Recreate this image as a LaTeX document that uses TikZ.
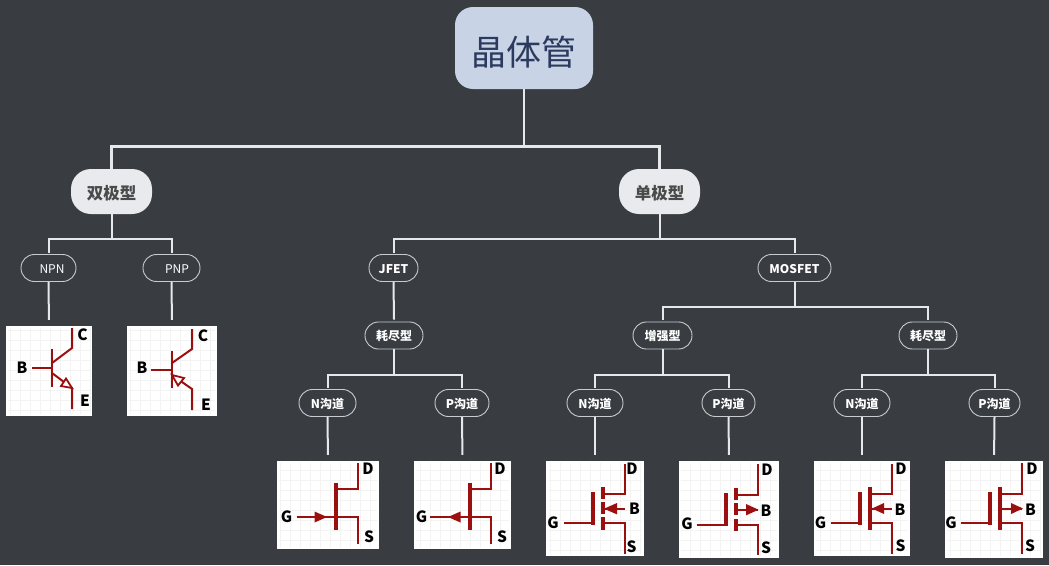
\documentclass[tikz,border=0pt]{standalone}
\usepackage{fontspec}
\setmainfont{Noto Sans CJK SC}
\definecolor{bgc}{HTML}{393C41}
\definecolor{rootc}{HTML}{C8D3E6}
\definecolor{roott}{HTML}{2B3A5E}
\definecolor{subc}{HTML}{E8EAED}
\definecolor{subt}{HTML}{4A4A4A}
\definecolor{linec}{HTML}{E6E8EA}
\definecolor{thinc}{HTML}{C9CBCD}
\definecolor{symc}{HTML}{9C0F0F}
\definecolor{gridc}{HTML}{F3F3F3}
\tikzset{
  rootbox/.style={fill=rootc,rounded corners=18pt,minimum width=138pt,minimum height=82pt,inner sep=0pt,text=roott,text height=36pt,text depth=1.4pt,font=\fontsize{35}{40}\selectfont},
  subbox/.style={fill=subc,rounded corners=20pt,minimum width=81pt,minimum height=45pt,inner sep=0pt,text=subt,text height=17pt,text depth=0.8pt,font=\fontsize{16.5}{20}\selectfont\bfseries},
  pill/.style={draw=thinc,line width=0.9pt,rounded corners=13.4pt,minimum height=27pt,inner sep=0pt,text=white,text height=11.6pt,text depth=0.8pt,font=\fontsize{12}{14}\selectfont\bfseries},
  pillreg/.style={pill,font=\fontsize{12}{14}\selectfont},
  panel/.style={fill=white,inner sep=0pt},
  gridln/.style={draw=gridc,line width=0.7pt},
  mainln/.style={draw=linec,line width=2.6pt},
  subln/.style={draw=linec,line width=2pt},
  toimg/.style={subln,shorten >=6pt},
  sym/.style={draw=symc,line width=2pt,line join=miter},
  bar/.style={draw=symc,line width=4.2pt},
  hollow/.style={draw=symc,line width=1.8pt,fill=white},
  solid tip/.style={fill=symc},
  term/.style={text=black,inner sep=0pt,font=\fontsize{15.5}{17}\selectfont\bfseries},
}
\begin{document}
\begin{tikzpicture}[x=1pt,y=-1pt]
\useasboundingbox (0,0) rectangle (1049,565);
\fill[bgc] (0,0) rectangle (1049,565);

% tree nodes
\node[rootbox] (root) at (524,48) {晶体管};
\node[subbox] (bi) at (111.5,191.5) {双极型};
\node[subbox] (uni) at (659.5,191.5) {单极型};
\node[pillreg,minimum width=55pt] (npn) at (48.5,268) {\hspace*{7pt}NPN};
\node[pillreg,minimum width=57pt] (pnp) at (171.5,268) {\hspace*{11pt}PNP};
\node[pill,minimum width=49pt] (jfet) at (393.5,268) {JFET};
\node[pill,minimum width=73pt] (mos) at (794.5,268) {MOSFET};
\node[pill,minimum width=58pt] (jd) at (394,335.5) {耗尽型};
\node[pill,minimum width=59pt] (me) at (662.5,335.5) {增强型};
\node[pill,minimum width=58pt] (md) at (928,335.5) {耗尽型};
\node[pill,minimum width=57pt] (n1) at (327.5,403) {N沟道};
\node[pill,minimum width=54pt] (p1) at (462,403) {P沟道};
\node[pill,minimum width=56pt] (n2) at (595,403) {N沟道};
\node[pill,minimum width=53pt] (p2) at (728.5,403) {P沟道};
\node[pill,minimum width=56pt] (n3) at (862,403) {N沟道};
\node[pill,minimum width=51pt] (p3) at (994.5,403) {P沟道};

% image panels
\node[panel,minimum width=86pt,minimum height=90pt] (inpn) at (49,371) {};
\node[panel,minimum width=90pt,minimum height=90pt] (ipnp) at (172,371) {};
\node[panel,minimum width=102pt,minimum height=88pt] (ij1) at (328,505) {};
\node[panel,minimum width=97pt,minimum height=88pt] (ij2) at (462.5,505) {};
\node[panel,minimum width=98pt,minimum height=95pt] (im1) at (595,508.5) {};
\node[panel,minimum width=100pt,minimum height=97pt] (im2) at (729,509.5) {};
\node[panel,minimum width=96pt,minimum height=95pt] (im3) at (862,508.5) {};
\node[panel,minimum width=98pt,minimum height=97pt] (im4) at (994,509.5) {};
\foreach \p in {inpn,ipnp,ij1,ij2,im1,im2,im3,im4}{
  \draw[gridln,step=10pt] ([xshift=2pt,yshift=-2pt]\p.north west) grid ([xshift=-2pt,yshift=2pt]\p.south east);
}

% connectors
\draw[mainln] (root.south) -- ++(0,57) -| (bi.north);
\draw[mainln] (root.south) -- ++(0,57) -| (uni.north);
\draw[subln] (bi.south) -- ++(0,25) -| ([yshift=1.5pt]npn.north);
\draw[subln] (bi.south) -- ++(0,25) -| ([yshift=1.5pt]pnp.north);
\draw[subln] (uni.south) -- ++(0,25) -| ([yshift=1.5pt]jfet.north);
\draw[subln] (uni.south) -- ++(0,25) -| ([yshift=1.5pt]mos.north);
\draw[subln] (jfet.south) -- ([yshift=2pt]jd.north);
\draw[subln] (mos.south) -- ++(0,25) -| ([yshift=1.5pt]me.north);
\draw[subln] (mos.south) -- ++(0,25) -| ([yshift=1.5pt]md.north);
\draw[subln] (jd.south) -- ++(0,26) -| ([yshift=1.5pt]n1.north);
\draw[subln] (jd.south) -- ++(0,26) -| ([yshift=1.5pt]p1.north);
\draw[subln] (me.south) -- ++(0,26) -| ([yshift=1.5pt]n2.north);
\draw[subln] (me.south) -- ++(0,26) -| ([yshift=1.5pt]p2.north);
\draw[subln] (md.south) -- ++(0,26) -| ([yshift=1.5pt]n3.north);
\draw[subln] (md.south) -- ++(0,26) -| ([yshift=1.5pt]p3.north);
\draw[toimg] (npn.south) -- (inpn.north);
\draw[toimg] (pnp.south) -- (ipnp.north);
\draw[toimg] (n1.south) -- (ij1.north);
\draw[toimg] (p1.south) -- (ij2.north);
\draw[toimg] (n2.south) -- (im1.north);
\draw[toimg] (p2.south) -- (im2.north);
\draw[toimg] (n3.south) -- (im3.north);
\draw[toimg] (p3.south) -- (im4.north);

% NPN symbol
\draw[sym] (52,349) -- (52,387);
\draw[sym] (32,368) -- (52,368);
\draw[sym] (52,363) -- (72,348) -- (72,328);
\draw[sym] (52,373) -- (72,388) -- (72,409);
\draw[hollow] (72,388) -- (66,378.5) -- (61,386) -- cycle;
\node[term] (tb1) at (22,368) {B};
\node[term] (tc1) at (82.5,335) {C};
\node[term] (te1) at (85,401) {E};

% PNP symbol
\draw[sym] (172,351) -- (172,388);
\draw[sym] (151,369.5) -- (172,369.5);
\draw[sym] (172,363) -- (192,349) -- (192,329);
\draw[sym] (172,375) -- (192,389) -- (192,410);
\draw[hollow] (172,375) -- (184,378) -- (178,385.5) -- cycle;
\node[term] (tb2) at (142,368) {B};
\node[term] (tc2) at (203,336) {C};
\node[term] (te2) at (206,405) {E};

% JFET N
\draw[bar] (336.3,482.5) -- (336.3,530);
\draw[sym] (336,489) -- (357.5,489) -- (357.5,462.5);
\draw[sym] (336,517) -- (357.5,517) -- (357.5,544);
\draw[sym] (296.7,517) -- (336,517);
\fill[solid tip] (327,517) -- (314.5,511.5) -- (314.5,522.5) -- cycle;
\node[term] (tg3) at (286.5,517) {G};
\node[term] (td3) at (368,469) {D};
\node[term] (ts3) at (369,537) {S};

% JFET P
\draw[bar] (470.3,482.5) -- (470.3,530);
\draw[sym] (470,489) -- (491,489) -- (491,462.5);
\draw[sym] (470,517) -- (491,517) -- (491,544);
\draw[sym] (430.3,517) -- (470,517);
\fill[solid tip] (448,517) -- (460.5,511.5) -- (460.5,522.5) -- cycle;
\node[term] (tg4) at (421.5,517) {G};
\node[term] (td4) at (500,469) {D};
\node[term] (ts4) at (502,537) {S};

% MOSFET 1
\draw[bar] (593.3,492.3) -- (593.3,524.8);
\draw[sym] (564,523) -- (593,523);
\draw[bar] (603,486.7) -- (603,498.7);
\draw[bar] (603,502.3) -- (603,514.3);
\draw[bar] (603,517.3) -- (603,530);
\draw[sym] (603,493.5) -- (624.5,493.5) -- (624.5,463.5);
\draw[sym] (603,523) -- (624.5,523) -- (624.5,554);
\draw[sym] (603,508.7) -- (625,508.7);
\fill[solid tip] (604,508.7) -- (617,503) -- (617,514.4) -- cycle;
\node[term] (tg5) at (553,523) {G};
\node[term] (td5) at (632,469) {D};
\node[term] (tb5) at (634.5,509) {B};
\node[term] (ts5) at (631.5,547) {S};

% MOSFET 2
\draw[bar] (725.7,493.3) -- (725.7,525.8);
\draw[sym] (696.7,524.7) -- (725.7,524.7);
\draw[bar] (736,487.7) -- (736,500);
\draw[bar] (736,503) -- (736,515);
\draw[bar] (736,519) -- (736,531);
\draw[sym] (736,494.5) -- (757.5,494.5) -- (757.5,463.5);
\draw[sym] (736,525) -- (757.5,525) -- (757.5,555);
\draw[sym] (736,509.7) -- (758,509.7);
\fill[solid tip] (758.5,509.7) -- (746,504) -- (746,515.4) -- cycle;
\node[term] (tg6) at (687,524) {G};
\node[term] (td6) at (767,470) {D};
\node[term] (tb6) at (766,511) {B};
\node[term] (ts6) at (766,548) {S};

% MOSFET 3
\draw[bar] (860,492.3) -- (860,524.8);
\draw[sym] (830.7,523) -- (860,523);
\draw[bar] (870,486.7) -- (870,530);
\draw[sym] (870,493.5) -- (891.5,493.5) -- (891.5,463.5);
\draw[sym] (870,523) -- (891.5,523) -- (891.5,554);
\draw[sym] (871,508.5) -- (892,508.5);
\fill[solid tip] (872,508.5) -- (884,503) -- (884,514) -- cycle;
\node[term] (tg7) at (820.5,523) {G};
\node[term] (td7) at (901,469) {D};
\node[term] (tb7) at (900,510) {B};
\node[term] (ts7) at (900.5,546) {S};

% MOSFET 4
\draw[bar] (990.3,492.3) -- (990.3,524.8);
\draw[sym] (961,523) -- (990,523);
\draw[bar] (1000.3,486.7) -- (1000.3,530);
\draw[sym] (1000,493.5) -- (1021.5,493.5) -- (1021.5,463);
\draw[sym] (1000,523) -- (1021.5,523) -- (1021.5,554);
\draw[sym] (1000,508.5) -- (1022,508.5);
\fill[solid tip] (1023,508.5) -- (1011,503) -- (1011,514) -- cycle;
\node[term] (tg8) at (951,523) {G};
\node[term] (td8) at (1032,469) {D};
\node[term] (tb8) at (1030.5,510) {B};
\node[term] (ts8) at (1030,546) {S};
\end{tikzpicture}
\end{document}
